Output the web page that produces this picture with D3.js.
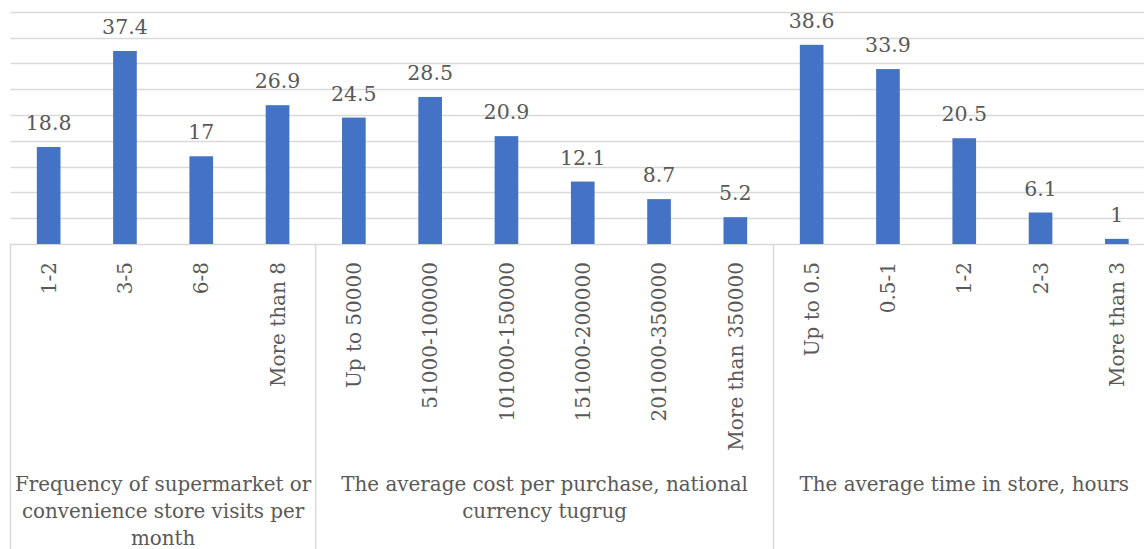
<!DOCTYPE html>
<html>
<head>
<meta charset="utf-8">
<script src="https://cdn.jsdelivr.net/npm/d3@7"></script>
<style>
  html, body { margin: 0; padding: 0; background: #fff; overflow: hidden; }
  svg { display: block; }
  text { font-family: "DejaVu Serif", serif; fill: #595959; }
</style>
</head>
<body>
<svg id="chart" width="1144" height="549"></svg>
<script>
// Survey categories, grouped by question
const groupNames = [
  ["Frequency of supermarket or", "convenience store visits per", "month"],
  ["The average cost per purchase, national", "currency tugrug"],
  ["The average time in store, hours"]
];
const visitCategories = ["1-2", "3-5", "6-8", "More than 8"];
const visitValues = [18.8, 37.4, 17, 26.9];
const costCategories = ["Up to 50000", "51000-100000", "101000-150000", "151000-200000", "201000-350000", "More than 350000"];
const costValues = [24.5, 28.5, 20.9, 12.1, 8.7, 5.2];
const timeCategories = ["Up to 0.5", "0.5-1", "1-2", "2-3", "More than 3"];
const timeValues = [38.6, 33.9, 20.5, 6.1, 1];
const yTicks = [0, 5, 10, 15, 20, 25, 30, 35, 40, 45];

const groups = [
  { name: groupNames[0], cats: visitCategories, vals: visitValues },
  { name: groupNames[1], cats: costCategories, vals: costValues },
  { name: groupNames[2], cats: timeCategories, vals: timeValues }
];

// Flatten into one row per bar, keyed uniquely by group index
const rows = [];
groups.forEach((g, gi) => g.cats.forEach((c, ci) => rows.push({ key: gi + "|" + c, label: c, value: g.vals[ci], group: gi })));

const svg = d3.select("#chart");
const left = 10.5, right = 1155, baseY = 244, topY = 11.8;

const x = d3.scaleBand()
  .domain(rows.map(r => r.key))
  .range([left, right])
  .paddingInner(0.69)
  .paddingOuter(0.345);

const y = d3.scaleLinear().domain([0, 45]).range([baseY, topY]);

// Horizontal gridlines (the zero line doubles as the category axis)
svg.append("g").selectAll("line")
  .data(yTicks)
  .join("line")
  .attr("x1", left).attr("x2", right)
  .attr("y1", d => Math.round(y(d)) + 0.5).attr("y2", d => Math.round(y(d)) + 0.5)
  .attr("stroke", "#d9d9d9").attr("stroke-width", 1.5);

// Group separators in the category axis
const step = x.step();
const bounds = [left];
let acc = 0;
groups.forEach(g => { acc += g.cats.length; bounds.push(left + acc * step); });
svg.append("g").selectAll("line")
  .data(bounds)
  .join("line")
  .attr("x1", d => d).attr("x2", d => d)
  .attr("y1", baseY).attr("y2", 549)
  .attr("stroke", "#d9d9d9").attr("stroke-width", 1.5);

// Bars
svg.append("g").selectAll("rect")
  .data(rows)
  .join("rect")
  .attr("x", d => x(d.key))
  .attr("width", x.bandwidth())
  .attr("y", d => y(d.value))
  .attr("height", d => baseY - y(d.value))
  .attr("fill", "#4472c4");

// Value labels
svg.append("g").selectAll("text")
  .data(rows)
  .join("text")
  .attr("x", d => x(d.key) + x.bandwidth() / 2)
  .attr("y", d => y(d.value) - 17)
  .attr("text-anchor", "middle")
  .attr("font-size", 20.5)
  .text(d => d.value);

// Rotated category labels
svg.append("g").selectAll("text")
  .data(rows)
  .join("text")
  .attr("transform", d => `translate(${x(d.key) + x.bandwidth() / 2},262) rotate(-90)`)
  .attr("text-anchor", "end")
  .attr("dy", "0.36em")
  .attr("font-size", 20)
  .text(d => d.label);

// Group titles
const gt = svg.append("g").selectAll("text")
  .data(groups)
  .join("text")
  .attr("text-anchor", "middle")
  .attr("font-size", 19.9)
  .attr("transform", (d, i) => `translate(${(bounds[i] + bounds[i + 1]) / 2},491)`);
gt.selectAll("tspan")
  .data(d => d.name)
  .join("tspan")
  .attr("x", 0)
  .attr("y", (d, i) => i * 27)
  .text(d => d);
</script>
</body>
</html>
